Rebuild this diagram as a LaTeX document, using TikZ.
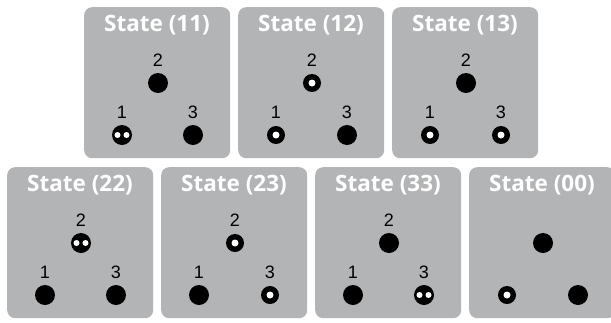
\documentclass[tikz,border=0pt]{standalone}
\usepackage{fontspec}
\newfontfamily\titlefont{Open Sans}
\newfontfamily\lblfont{Liberation Sans}
\definecolor{boxgray}{HTML}{B3B4B6}
\tikzset{
 statebox/.style={fill=boxgray, rounded corners=8pt, minimum width=146pt, minimum height=151pt, inner sep=0pt, anchor=north west},
 ttl/.style={text=white, inner sep=0pt, font=\titlefont\bfseries\fontsize{22.5}{26}\selectfont},
 lbl/.style={inner sep=0pt, font=\lblfont\fontsize{18}{21}\selectfont},
 bdot/.style={circle, fill=black, minimum size=20pt, inner sep=0pt},
 rdot/.style={circle, fill=black, minimum size=18pt, inner sep=0pt},
 wdot/.style={circle, fill=white, minimum size=7pt, inner sep=0pt},
 wsm/.style={circle, fill=white, minimum size=6pt, inner sep=0pt},
}
\newcommand\dotP[3]{\node[bdot] (#1) at (#2,#3) {};}
\newcommand\dotR[3]{\node[rdot] (#1) at (#2,#3) {};\node[wdot] (#1c) at (#1.center) {};}
\newcommand\dotD[3]{\node[bdot] (#1) at (#2,#3) {};
  \node[wsm] (#1l) at ([xshift=-4.5pt]#1.center) {};
  \node[wsm] (#1r) at ([xshift=4.5pt]#1.center) {};}
% id, x, y, title, type1, type2, type3, labels
\newcommand\stbox[8]{%
  \node[statebox] (b#1) at (#2,-#3) {};
  \node[ttl] (t#1) at (#2+73,-#3-18.5) {#4};
  \csname dot#5\endcsname{d#1a}{#2+38}{-#3-128}
  \csname dot#6\endcsname{d#1b}{#2+74}{-#3-76}
  \csname dot#7\endcsname{d#1c}{#2+109}{-#3-128}
  \ifnum#8=1
    \node[lbl] (l#1a) at (#2+38,-#3-105) {1};
    \node[lbl] (l#1b) at (#2+74,-#3-53) {2};
    \node[lbl] (l#1c) at (#2+109,-#3-105) {3};
  \fi
}
\begin{document}
\begin{tikzpicture}[x=1pt,y=1pt]
\fill[white] (0,0) rectangle (611,-322);
\useasboundingbox (0,0) rectangle (611,-322);
\stbox{11}{84}{7}{State (11)}{D}{P}{P}{1}
\stbox{12}{238}{7}{State (12)}{R}{R}{P}{1}
\stbox{13}{392}{7}{State (13)}{R}{P}{R}{1}
\stbox{22}{7}{167}{State (22)}{P}{D}{P}{1}
\stbox{23}{161}{167}{State (23)}{P}{R}{R}{1}
\stbox{33}{315}{167}{State (33)}{P}{P}{D}{1}
\stbox{00}{469}{167}{State (00)}{R}{P}{P}{0}
\end{tikzpicture}
\end{document}
